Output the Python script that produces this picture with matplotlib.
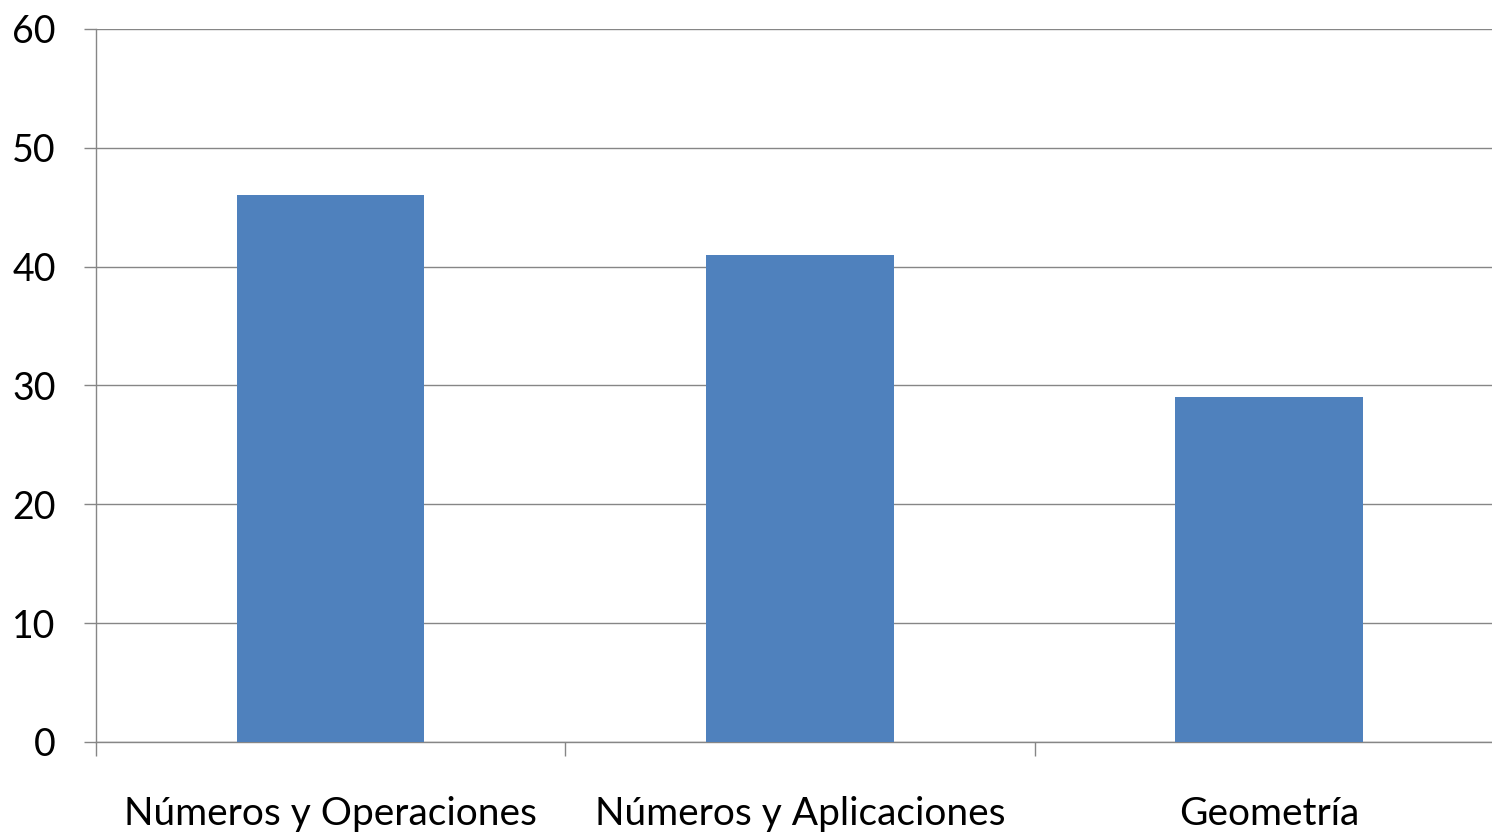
import matplotlib.pyplot as plt
from matplotlib.ticker import FixedLocator

categories = ["Números y Operaciones", "Números y Aplicaciones", "Geometría"]
values = [46, 41, 29]
yticks = [0, 10, 20, 30, 40, 50, 60]

plt.rcParams['font.family'] = ['Lato', 'DejaVu Sans']

fig = plt.figure(figsize=(14.92, 8.35), dpi=100)
ax = fig.add_axes([0.0643, 0.1114, 0.9437, 0.854])

x = range(len(categories))
ax.bar(x, values, width=0.4, color='#4f81bd', zorder=3)

ax.set_xlim(-0.5, len(categories) - 0.5)
ax.set_ylim(0, 60)
ax.set_yticks(yticks)
ax.yaxis.grid(True, color='#868686', linewidth=1)
ax.set_axisbelow(True)

ax.set_xticks(list(x))
ax.set_xticklabels(categories)
ax.xaxis.set_minor_locator(FixedLocator([-0.5, 0.5, 1.5, 2.5]))
ax.tick_params(axis='x', which='major', length=0, pad=39, labelsize=28)
ax.tick_params(axis='x', which='minor', length=10, color='#868686', width=1)
ax.tick_params(axis='y', length=9, color='#868686', width=1, pad=20, labelsize=27)

for s in ['top', 'right']:
    ax.spines[s].set_visible(False)
for s in ['left', 'bottom']:
    ax.spines[s].set_color('#868686')
    ax.spines[s].set_linewidth(1)

fig.savefig('out.png', dpi=100)
